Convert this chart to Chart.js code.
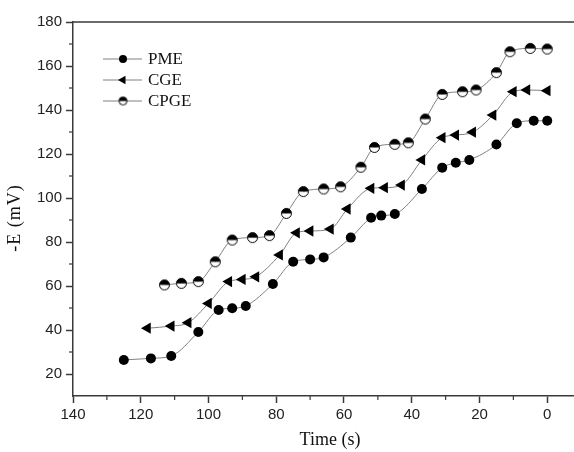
<!DOCTYPE html>
<html><head><meta charset="utf-8">
<script src="https://cdn.jsdelivr.net/npm/chart.js@4"></script>
<style>html,body{margin:0;padding:0;background:#fff}canvas{display:block}</style>
</head><body>
<canvas id="c" width="574" height="452"></canvas>
<script>
// ---- data ----
const SERIES_NAMES = ['PME', 'CGE', 'CPGE'];
const PME_T = [125,117,111,103,97,93,89,81,75,70,66,58,52,49,45,37,31,27,23,15,9,4,0];
const PME_E = [26.4,27.1,28.2,39.1,49.1,49.9,50.9,60.9,71.0,72.1,73.0,82.0,91.0,92.0,92.7,104.1,113.8,116.0,117.3,124.3,134.0,135.1,135.1];
const CGE_T = [118,111,106,100,94,90,86,79,74,70,64,59,52,48,43,37,31,27,22,16,10,6,0];
const CGE_E = [40.8,41.8,43.3,52.1,62.0,63.0,64.2,74.1,84.2,85.0,85.9,95.0,104.4,104.7,105.9,117.3,127.4,128.6,129.9,137.7,148.3,149.1,148.8];
const CPGE_T = [113,108,103,98,93,87,82,77,72,66,61,55,51,45,41,36,31,25,21,15,11,5,0];
const CPGE_E = [60.5,61.2,62.0,71.0,80.9,82.0,82.9,93.0,102.9,104.1,105.1,114.0,123.0,124.4,125.1,135.9,147.1,148.3,149.1,157.0,166.5,168.0,167.7];
const X_MAJOR = [140,120,100,80,60,40,20,0];
const X_MINOR = [130,110,90,70,50,30,10];
const Y_MAJOR = [20,40,60,80,100,120,140,160,180];
const Y_MINOR = [30,50,70,90,110,130,150,170];
const X_TITLE = 'Time (s)';
const Y_TITLE = '-E (mV)';

// half-filled circle marker (top black, bottom white)
function halfCircle(r) {
  const s = Math.ceil(r * 2 + 3);
  const cv = document.createElement('canvas');
  cv.width = s; cv.height = s;
  const g = cv.getContext('2d');
  const c = s / 2;
  g.beginPath(); g.arc(c, c, r, 0, Math.PI); g.closePath(); g.fillStyle = '#fff'; g.fill();
  g.beginPath(); g.arc(c, c, r, Math.PI, 2 * Math.PI); g.closePath(); g.fillStyle = '#000'; g.fill();
  g.beginPath(); g.arc(c, c, r, 0, 2 * Math.PI); g.lineWidth = 1; g.strokeStyle = '#000'; g.stroke();
  return cv;
}
const HALF = halfCircle(5);

const pts = (t, e) => t.map((v, i) => ({x: v, y: e[i]}));
const LINE = '#808080';
const AXIS = '#3a3a3a';
const SERIF = '"Liberation Serif", "Times New Roman", serif';

const extras = {
  id: 'extras',
  afterDraw(chart) {
    const ctx = chart.ctx, a = chart.chartArea;
    const xs = chart.scales.x, ys = chart.scales.y;
    ctx.save();
    ctx.strokeStyle = AXIS; ctx.lineWidth = 1.5;
    // top frame
    ctx.beginPath(); ctx.moveTo(a.left, a.top); ctx.lineTo(a.right, a.top); ctx.stroke();
    // minor ticks
    ctx.lineWidth = 1.2;
    X_MINOR.forEach(v => { const p = xs.getPixelForValue(v); ctx.beginPath(); ctx.moveTo(p, a.bottom); ctx.lineTo(p, a.bottom + 4); ctx.stroke(); });
    Y_MINOR.forEach(v => { const p = ys.getPixelForValue(v); ctx.beginPath(); ctx.moveTo(a.left, p); ctx.lineTo(a.left - 4, p); ctx.stroke(); });
    // axis titles
    ctx.fillStyle = '#111';
    ctx.font = '18px ' + SERIF;
    ctx.textAlign = 'center'; ctx.textBaseline = 'middle';
    ctx.fillText(X_TITLE, 330, 440);
    ctx.save(); ctx.translate(15, 218); ctx.rotate(-Math.PI / 2);
    ctx.letterSpacing = '1px';
    ctx.fillText(Y_TITLE, 0, 0); ctx.restore();
    // legend
    ctx.font = '17px ' + SERIF;
    const rows = [59, 80, 101];
    chart.data.datasets.forEach((ds, i) => {
      const y = rows[i];
      ctx.strokeStyle = LINE; ctx.lineWidth = 1;
      ctx.beginPath(); ctx.moveTo(103, y); ctx.lineTo(142, y); ctx.stroke();
      const mx = 123;
      if (i === 0) {
        ctx.fillStyle = '#000'; ctx.beginPath(); ctx.arc(mx, y, 4, 0, 2 * Math.PI); ctx.fill();
      } else if (i === 1) {
        const r = 5;
        ctx.fillStyle = '#000'; ctx.beginPath();
        ctx.moveTo(mx - r, y); ctx.lineTo(mx + r / 2, y - r * 0.866); ctx.lineTo(mx + r / 2, y + r * 0.866); ctx.closePath(); ctx.fill();
      } else {
        const h = halfCircle(4);
        ctx.drawImage(h, mx - h.width / 2, y - h.height / 2);
      }
      ctx.fillStyle = '#111';
      ctx.textAlign = 'left';
      ctx.fillText(ds.label, 148, y + 1);
    });
    ctx.restore();
  }
};

new Chart(document.getElementById('c'), {
  type: 'line',
  data: {
    datasets: [
      {label: SERIES_NAMES[0], data: pts(PME_T, PME_E), borderColor: LINE, borderWidth: 1, cubicInterpolationMode: 'monotone',
       pointStyle: 'circle', pointRadius: 5, pointBackgroundColor: '#000', pointBorderColor: '#000', pointBorderWidth: 0},
      {label: SERIES_NAMES[1], data: pts(CGE_T, CGE_E), borderColor: LINE, borderWidth: 1, cubicInterpolationMode: 'monotone',
       pointStyle: 'triangle', pointRotation: -90, pointRadius: 6.5, pointBackgroundColor: '#000', pointBorderColor: '#000', pointBorderWidth: 0},
      {label: SERIES_NAMES[2], data: pts(CPGE_T, CPGE_E), borderColor: LINE, borderWidth: 1, cubicInterpolationMode: 'monotone',
       pointStyle: HALF, pointRadius: 5}
    ]
  },
  options: {
    responsive: false, animation: false, events: [],
    layout: {autoPadding: false, padding: {top: 22, left: 0, right: 0, bottom: 0}},
    plugins: {legend: {display: false}, tooltip: {enabled: false}},
    scales: {
      x: {
        type: 'linear', reverse: true, min: -7.9, max: 140,
        afterBuildTicks: s => { s.ticks = X_MAJOR.map(v => ({value: v})); },
        afterFit: s => { s.height = 56; },
        grid: {drawOnChartArea: false, tickLength: 7, tickWidth: 1.5, tickColor: AXIS},
        border: {display: true, color: AXIS, width: 1.5},
        ticks: {color: '#222', padding: 3, font: {family: '"Liberation Sans", Arial, sans-serif', size: 15}, maxRotation: 0, autoSkip: false}
      },
      y: {
        type: 'linear', min: 10, max: 180,
        afterBuildTicks: s => { s.ticks = Y_MAJOR.map(v => ({value: v})); },
        afterFit: s => { s.width = 73; },
        grid: {drawOnChartArea: false, tickLength: 7, tickWidth: 1.5, tickColor: AXIS},
        border: {display: true, color: AXIS, width: 1.5},
        ticks: {color: '#222', padding: 4, font: {family: '"Liberation Sans", Arial, sans-serif', size: 15}, autoSkip: false}
      }
    }
  },
  plugins: [extras]
});
</script>
</body></html>
